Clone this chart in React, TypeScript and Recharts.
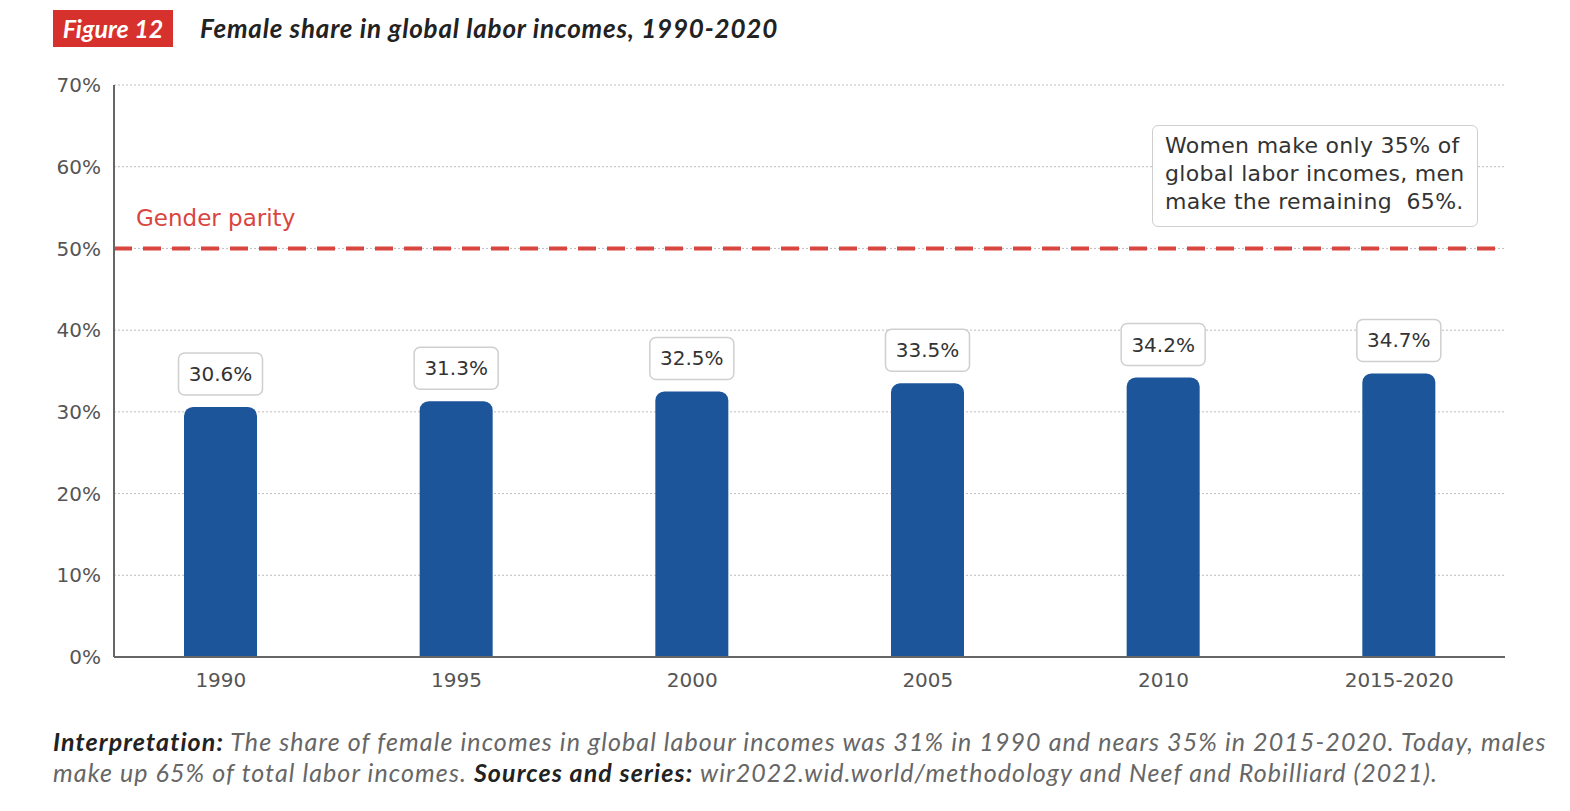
import {
	BarChart,
	Bar,
	XAxis,
	YAxis,
	CartesianGrid,
	ReferenceLine,
	LabelList,
} from 'recharts';

const periods = ['1990', '1995', '2000', '2005', '2010', '2015-2020'];
const femaleShare = [30.6, 31.3, 32.5, 33.5, 34.2, 34.7];
const yTicks = [0, 10, 20, 30, 40, 50, 60, 70];
const parityLevel = 50;

const data = periods.map((period, i) => ({ period, share: femaleShare[i] }));

const sans = 'DejaVu Sans';

const ShareLabel = (props: any) => {
	const { x, y, width, value } = props;
	const cx = x + width / 2;
	const boxW = 84;
	const boxH = 42;
	const bottom = y - 12;
	return (
		<g>
			<rect
				x={cx - boxW / 2}
				y={bottom - boxH}
				width={boxW}
				height={boxH}
				rx={6}
				fill='#fff'
				stroke='#cfcfcf'
				strokeWidth={1.5}
			/>
			<text
				x={cx}
				y={bottom - boxH / 2 + 7}
				textAnchor='middle'
				fontSize={20}
				fill='#333'
				fontFamily={sans}
			>
				{value.toFixed(1)}%
			</text>
		</g>
	);
};

const App = () => {
	return (
		<div
			style={{
				position: 'absolute',
				top: 0,
				left: 0,
				width: 1570,
				height: 811,
				background: '#fff',
				fontFamily: 'Lato',
			}}
		>
			<div
				style={{
					position: 'absolute',
					left: 53,
					top: 10,
					width: 120,
					height: 37,
					background: '#d7312e',
					color: '#fff',
					fontStyle: 'italic',
					fontWeight: 700,
					fontSize: 25,
					lineHeight: '37px',
					textAlign: 'center',
				}}
			>
				Figure 12
			</div>
			<div
				style={{
					position: 'absolute',
					left: 200,
					top: 10,
					height: 37,
					lineHeight: '37px',
					color: '#222',
					fontStyle: 'italic',
					fontWeight: 700,
					fontSize: 26,
					letterSpacing: 0.8,
					whiteSpace: 'nowrap',
				}}
			>
				Female share in global labor incomes, 1990-2020
			</div>

			<div style={{ position: 'absolute', left: 0, top: 0 }}>
				<BarChart
					width={1570}
					height={700}
					data={data}
					margin={{ top: 85, right: 65, left: 0, bottom: 0 }}
				>
					<CartesianGrid
						vertical={false}
						stroke='#bdbdbd'
						strokeDasharray='2 2'
					/>
					<XAxis
						dataKey='period'
						height={43}
						padding={{ left: -11, right: -12 }}
						axisLine={{ stroke: '#666', strokeWidth: 2 }}
						tickLine={false}
						tickSize={0}
						tickMargin={16}
						tick={{ fontSize: 20, fill: '#555', fontFamily: sans }}
					/>
					<YAxis
						width={114}
						domain={[0, 70]}
						ticks={yTicks}
						tickFormatter={(v) => `${v}%`}
						axisLine={{ stroke: '#666', strokeWidth: 2 }}
						tickLine={false}
						tickSize={0}
						tickMargin={13}
						tick={{ fontSize: 20, fill: '#555', fontFamily: sans }}
					/>
					<ReferenceLine
						y={parityLevel}
						stroke='#d9453f'
						strokeWidth={4}
						strokeDasharray='18 11'
						label={{
							value: 'Gender parity',
							position: 'insideBottomLeft',
							offset: 22,
							fill: '#d9453f',
							fontSize: 23,
							fontFamily: sans,
						}}
					/>
					<Bar
						dataKey='share'
						fill='#1d559a'
						barSize={73}
						radius={[9, 9, 0, 0]}
						isAnimationActive={false}
					>
						<LabelList dataKey='share' content={<ShareLabel />} />
					</Bar>
				</BarChart>
			</div>

			<div
				style={{
					position: 'absolute',
					left: 1152,
					top: 125,
					width: 326,
					height: 102,
					boxSizing: 'border-box',
					border: '1.5px solid #cfcfcf',
					borderRadius: 6,
					background: '#fff',
					padding: '6px 0 0 12px',
					fontFamily: sans,
					fontSize: 22,
					letterSpacing: 0.3,
					lineHeight: '28px',
					color: '#333',
					whiteSpace: 'nowrap',
				}}
			>
				Women make only 35% of
				<br />
				global labor incomes, men
				<br />
				make the remaining&nbsp; 65%.
			</div>

			<div
				style={{
					position: 'absolute',
					left: 53,
					top: 726,
					fontStyle: 'italic',
					fontSize: 25,
					letterSpacing: 1.1,
					lineHeight: '31px',
					color: '#666',
					whiteSpace: 'nowrap',
				}}
			>
				<b style={{ color: '#222' }}>Interpretation:</b> The share of female
				incomes in global labour incomes was 31% in 1990 and nears 35% in
				2015-2020. Today, males
				<br />
				make up 65% of total labor incomes.{' '}
				<b style={{ color: '#222' }}>Sources and series:</b>{' '}
				wir2022.wid.world/methodology and Neef and Robilliard (2021).
			</div>
		</div>
	);
};

export default App;
